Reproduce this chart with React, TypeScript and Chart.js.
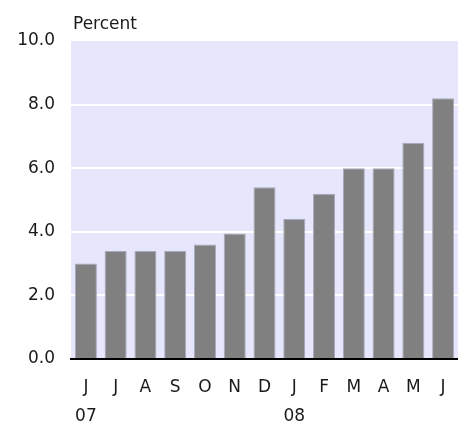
import React, { useEffect, useRef } from "react";
import { Chart, registerables } from "chart.js";

Chart.register(...registerables);

const months = ["J", "J", "A", "S", "O", "N", "D", "J", "F", "M", "A", "M", "J"];
const years = ["07", "", "", "", "", "", "", "08", "", "", "", "", ""];
const values = [3.0, 3.4, 3.4, 3.4, 3.6, 3.95, 5.4, 4.4, 5.2, 6.0, 6.0, 6.8, 8.2];
const yTicks = [0, 2, 4, 6, 8, 10];
const unitLabel = "Percent";

const FONT = "'DejaVu Sans', 'Liberation Sans', Arial, sans-serif";
const FSIZE = 17;

const bgPlugin = {
  id: "plotBg",
  beforeDraw(chart: any) {
    const { ctx, chartArea } = chart;
    ctx.save();
    ctx.fillStyle = "#e6e6fc";
    ctx.fillRect(chartArea.left, chartArea.top, chartArea.right - chartArea.left, chartArea.bottom - chartArea.top);
    ctx.restore();
  },
  afterDraw(chart: any) {
    const { ctx, chartArea } = chart;
    ctx.save();
    ctx.fillStyle = "#1a1a1a";
    ctx.font = `${FSIZE}px ${FONT}`;
    ctx.textBaseline = "alphabetic";
    ctx.textAlign = "left";
    ctx.fillText(unitLabel, chartArea.left + 2, 29);
    ctx.restore();
  },
};

export default function App() {
  const ref = useRef<HTMLCanvasElement | null>(null);
  useEffect(() => {
    document.body.style.margin = "0";
    document.body.style.overflow = "hidden";
    const labels = months.map((m, i) => [m, years[i]]);
    const chart = new Chart(ref.current!, {
      type: "bar",
      data: {
        labels,
        datasets: [
          {
            data: values,
            backgroundColor: "#808080",
            borderColor: "#a8a8bc",
            borderWidth: 1,
            barPercentage: 0.74,
            categoryPercentage: 1,
          },
        ],
      },
      options: {
        animation: false,
        responsive: false,
        maintainAspectRatio: false,
        layout: { padding: { top: 41, right: 0, left: 0, bottom: 0 } },
        plugins: { legend: { display: false }, tooltip: { enabled: false } },
        scales: {
          x: {
            grid: { display: false, drawTicks: false },
            border: { display: true, color: "#000", width: 2 },
            ticks: {
              color: "#1a1a1a",
              font: { family: FONT, size: FSIZE, lineHeight: 29 / FSIZE },
              padding: 14,
              maxRotation: 0,
              autoSkip: false,
            },
            afterFit(scale: any) {
              scale.height = 62;
              scale.paddingLeft = 0;
              scale.paddingRight = 0;
            },
          },
          y: {
            min: 0,
            max: 10,
            afterBuildTicks(scale: any) {
              scale.ticks = yTicks.map((v) => ({ value: v }));
            },
            grid: {
              drawTicks: false,
              color: (c: any) => (c.tick && c.tick.value > 0 && c.tick.value < 10 ? "#ffffff" : "rgba(0,0,0,0)"),
              lineWidth: 2,
            },
            border: { display: false },
            ticks: {
              color: "#1a1a1a",
              font: { family: FONT, size: FSIZE },
              padding: 16,
              callback: (v: any) => Number(v).toFixed(1),
            },
            afterFit(scale: any) {
              scale.width = 71;
            },
          },
        },
      },
      plugins: [bgPlugin],
    });
    return () => chart.destroy();
  }, []);
  return (
    <div style={{ width: 458, height: 421 }}>
      <canvas ref={ref} width={458} height={421} style={{ display: "block" }} />
    </div>
  );
}
